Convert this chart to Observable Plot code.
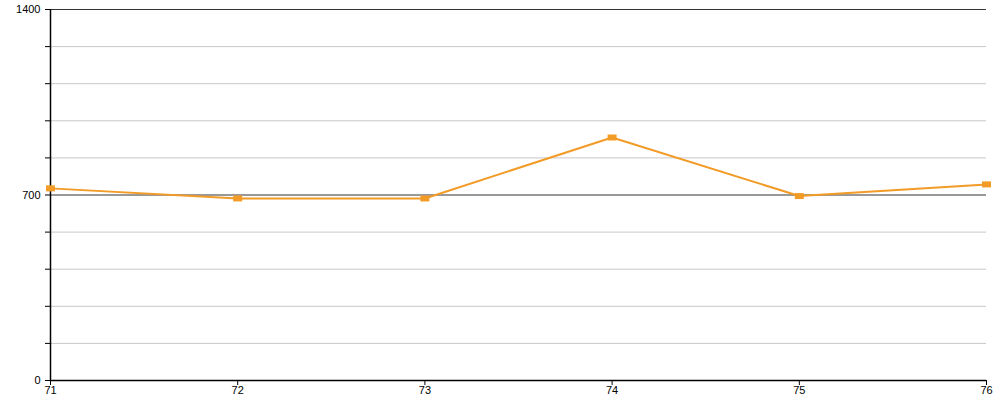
<!DOCTYPE html>
<html>
<head>
<meta charset="utf-8">
<script src="https://cdn.jsdelivr.net/npm/d3@7"></script>
<script src="https://cdn.jsdelivr.net/npm/@observablehq/plot@0.6"></script>
<style>
  html, body { margin: 0; padding: 0; background: #fff; }
  #chart svg { display: block; }
</style>
</head>
<body>
<div id="chart"></div>
<script>
const xs = [71, 72, 73, 74, 75, 76];
const values = [725, 687, 687, 917, 696, 740];
const yLabelTicks = [0, 700, 1400];
const yGridMinor = [140, 280, 420, 560, 840, 980, 1120, 1260];
const yGridMajor = [700, 1400];

const data = xs.map((x, i) => ({x, y: values[i]}));

const rectSymbol = {
  draw(context, size) {
    const w = 9, h = 6;
    context.rect(-w / 2, -h / 2, w, h);
  }
};

const chart = Plot.plot({
  width: 1000,
  height: 400,
  marginLeft: 50,
  marginRight: 14,
  marginTop: 9,
  marginBottom: 20,
  style: { fontFamily: "Liberation Sans, Arial, sans-serif", fontSize: "11px", background: "#fff" },
  x: { domain: [71, 76] },
  y: { domain: [0, 1400] },
  marks: [
    Plot.ruleY(yGridMinor, { stroke: "#c8c8c8", strokeWidth: 1 }),
    Plot.ruleY(yGridMajor, { stroke: "#333", strokeWidth: 1 }),
    Plot.axisY({
      ticks: [0, 140, 280, 420, 560, 700, 840, 980, 1120, 1260, 1400],
      tickFormat: d => yLabelTicks.includes(d) ? String(d) : "",
      tickSize: 5, tickPadding: 5, stroke: "#000", strokeOpacity: 1, color: "#000", label: null
    }),
    Plot.axisX({
      ticks: xs, tickFormat: d => String(d), tickSize: 5, tickPadding: 1,
      stroke: "#000", strokeOpacity: 1, color: "#000", label: null
    }),
    Plot.ruleX([71], { stroke: "#000", strokeWidth: 1.5 }),
    Plot.ruleY([0], { stroke: "#000", strokeWidth: 1.5 }),
    Plot.line(data, { x: "x", y: "y", stroke: "#f29b26", strokeWidth: 2 }),
    Plot.dot(data, { x: "x", y: "y", symbol: rectSymbol, fill: "#f29b26", stroke: null })
  ]
});
document.getElementById("chart").appendChild(chart);
</script>
</body>
</html>
